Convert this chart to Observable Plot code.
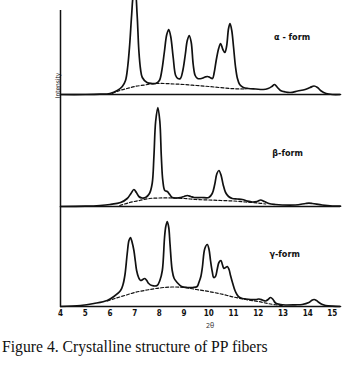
<!DOCTYPE html>
<html><head><meta charset="utf-8">
<script src="https://cdn.jsdelivr.net/npm/d3@7"></script>
<script src="https://cdn.jsdelivr.net/npm/@observablehq/plot@0.6"></script>
<style>
html,body{margin:0;padding:0;background:#fff;}
#chart{position:relative;width:352px;height:381px;overflow:hidden;background:#fff;}
#chart svg{position:absolute;left:0;top:0;}
#caption{position:absolute;left:2px;top:339px;font:15.7px "Liberation Serif","Times New Roman",serif;color:#111;white-space:nowrap;line-height:1;}
</style></head><body>
<div id="chart"><div id="caption">Figure 4. Crystalline structure of PP fibers</div></div>
<script>
// ---- data (x = angle, intensity in arbitrary units) ----
const forms = ["α - form", "β-form", "γ-form"];
const xTicks = [4,5,6,7,8,9,10,11,12,13,14,15];

const thetaA = [4.0,5.0,5.6,6.0,6.3,6.5,6.63,6.72,6.8,6.88,6.95,7.02,7.1,7.17,7.24,7.31,7.5,7.7,7.85,8.0,8.1,8.2,8.3,8.38,8.46,8.56,8.66,8.75,8.85,8.95,9.05,9.13,9.21,9.29,9.37,9.45,9.55,9.7,9.85,9.95,10.05,10.15,10.22,10.3,10.4,10.48,10.57,10.65,10.72,10.8,10.86,10.93,11.0,11.08,11.16,11.25,11.4,11.6,11.9,12.2,12.4,12.55,12.66,12.78,12.9,13.1,13.3,13.6,13.9,14.1,14.26,14.4,14.55,14.75,15.0,15.33];
const intensityA = [0,0,0.3,1,4,8,14,28,50,80,100,104,80,44,25,17,12,11,11,14,24,42,60,65,58,37,19,16,16,24,40,54,59,52,30,19,16,16,17.5,18,17,16,22,34,46,51,45,42,48,66,71,64,48,28,16,10,7,6,5.5,5,6,8,10,7,4,2.5,2,3.5,5,7,8.5,7,3.5,1,0,0];

const thetaB = [4.0,5.0,5.6,6.0,6.43,6.7,6.85,6.97,7.07,7.17,7.3,7.44,7.6,7.71,7.78,7.85,7.94,8.02,8.08,8.14,8.22,8.32,8.42,8.52,8.7,8.86,9.0,9.13,9.27,9.4,9.7,10.0,10.14,10.24,10.33,10.41,10.5,10.58,10.68,10.8,10.95,11.15,11.36,11.55,11.76,11.95,12.1,12.25,12.43,12.7,12.97,13.5,13.92,14.05,14.19,14.59,15.0,15.33];
const intensityB = [0,0.3,1,2,4,8,13,17,14,10,8.5,9,13,23,50,85,99,85,50,26,16,15,12,9,8.5,9,10,11,10,9,9,9,13,22,33,36,31,22,14,10,8,7.5,7,5.5,4.5,5,6.5,5,3,2,1.5,1.5,3,3.3,3,1.5,0.5,0.3];

const thetaG = [4.0,4.81,5.35,5.89,6.16,6.43,6.53,6.61,6.7,6.77,6.83,6.9,6.97,7.03,7.08,7.16,7.24,7.33,7.41,7.49,7.57,7.7,7.91,8.02,8.12,8.21,8.26,8.32,8.38,8.43,8.52,8.6,8.72,8.9,9.13,9.35,9.53,9.6,9.68,9.74,9.84,9.94,10.01,10.07,10.14,10.2,10.27,10.34,10.41,10.49,10.55,10.61,10.68,10.75,10.82,10.88,10.97,11.06,11.14,11.22,11.36,11.5,11.9,12.03,12.17,12.3,12.4,12.5,12.6,12.7,12.9,13.1,13.5,13.78,14.05,14.16,14.26,14.36,14.46,14.6,14.73,15.0,15.33];
const intensityG = [0,1,3,6,10,16,22,32,53,66,69,64,56,45,36,29,26,27,28,26,23,21,21,26,36,69,80,85,79,63,36,28,24,20,19,19,20,24,30,39,58,62,57,46,35,29,30,37,44,46,42,38,39,40,37,31,23,16,12,9.5,8,7.5,7,7.5,6.5,5.5,7,9,7,3.5,2,1.5,1.7,2,4,6,7,6,4,2,1,0.3,0];

// amorphous halos (dashed)
const haloThetaA = [6.1,6.4,6.7,7.0,7.4,7.8,8.2,8.6,9.0,9.5,10.0,10.5,11.0,11.5];
const haloA =      [1,4,6,8,9.5,11,11,10.5,10,9,8,6.8,5.8,5.5];
const haloThetaB = [6.4,6.8,7.2,7.6,8.0,8.5,9.0,9.5,10.0,10.5,11.0,11.5,12.0,12.3];
const haloB =      [1,4,6,8,8.5,8.5,8,7,6.5,6,5.5,4.5,3.5,2.5];
const haloThetaG = [5.9,6.2,6.6,7.0,7.5,8.0,8.5,9.0,9.5,10.0,10.5,11.0,11.5,12.0,12.5,13.0];
const haloG =      [5.5,8,11,14,16.5,18.5,19.5,19,17,15,12.5,9.5,7,5,2.5,0.8];

// ---- layout of the stacked panels (baseline level of each panel on the shared y scale) ----
const panelBase = [212, 100, 0];
const yTop = 306, axisTop = 296;
const labelTheta = [13.37, 13.19, 13.07], labelHeight = [57, 53, 52];

const curves = [[thetaA,intensityA],[thetaB,intensityB],[thetaG,intensityG]];
const halos = [[haloThetaA,haloA],[haloThetaB,haloB],[haloThetaG,haloG]];
const rows = curves.flatMap(([t, v], i) => t.map((x, j) => ({form: forms[i], theta: x, level: panelBase[i] + v[j]})));
const haloRows = halos.flatMap(([t, v], i) => t.map((x, j) => ({form: forms[i], theta: x, level: panelBase[i] + v[j]})));
const labels = forms.map((f, i) => ({text: f, theta: labelTheta[i], level: panelBase[i] + labelHeight[i]}));

const plot = Plot.plot({
  width: 352, height: 332,
  marginLeft: 60, marginRight: 12, marginTop: 0, marginBottom: 26,
  x: {domain: [4, 15.33], axis: null},
  y: {domain: [0, yTop], axis: null},
  style: {background: "white", color: "#111"},
  marks: [
    Plot.ruleY(panelBase, {stroke: "#111", strokeWidth: 1.5}),
    Plot.ruleX([4], {y1: 0, y2: axisTop, stroke: "#111", strokeWidth: 1.5}),
    Plot.line(haloRows, {x: "theta", y: "level", z: "form", curve: "catmull-rom", stroke: "#111", strokeWidth: 1.2, strokeDasharray: "3,2"}),
    Plot.line(rows, {x: "theta", y: "level", z: "form", curve: "catmull-rom", stroke: "#111", strokeWidth: 1.7}),
    Plot.text(labels, {x: "theta", y: "level", text: "text", fontSize: 9, fontWeight: "bold", fontFamily: "DejaVu Sans Condensed, DejaVu Sans, sans-serif", fill: "#111"}),
    Plot.text(["Intensity"], {x: 4, y: panelBase[0] + 9, dx: -3, rotate: -90, fontSize: 6.5, fontFamily: "DejaVu Sans Condensed, sans-serif", fill: "#111"}),
    Plot.axisX({ticks: xTicks, tickSize: 0, tickPadding: 4, label: null, fontSize: 8, fontWeight: "bold", fontFamily: "DejaVu Sans Condensed, DejaVu Sans, sans-serif", fill: "#111"}),
    Plot.text(["2θ"], {x: 10.05, frameAnchor: "bottom", dy: 17, lineAnchor: "top", fontSize: 7, fill: "#333"})
  ]
});
document.getElementById("chart").prepend(plot);
</script>
</body></html>
